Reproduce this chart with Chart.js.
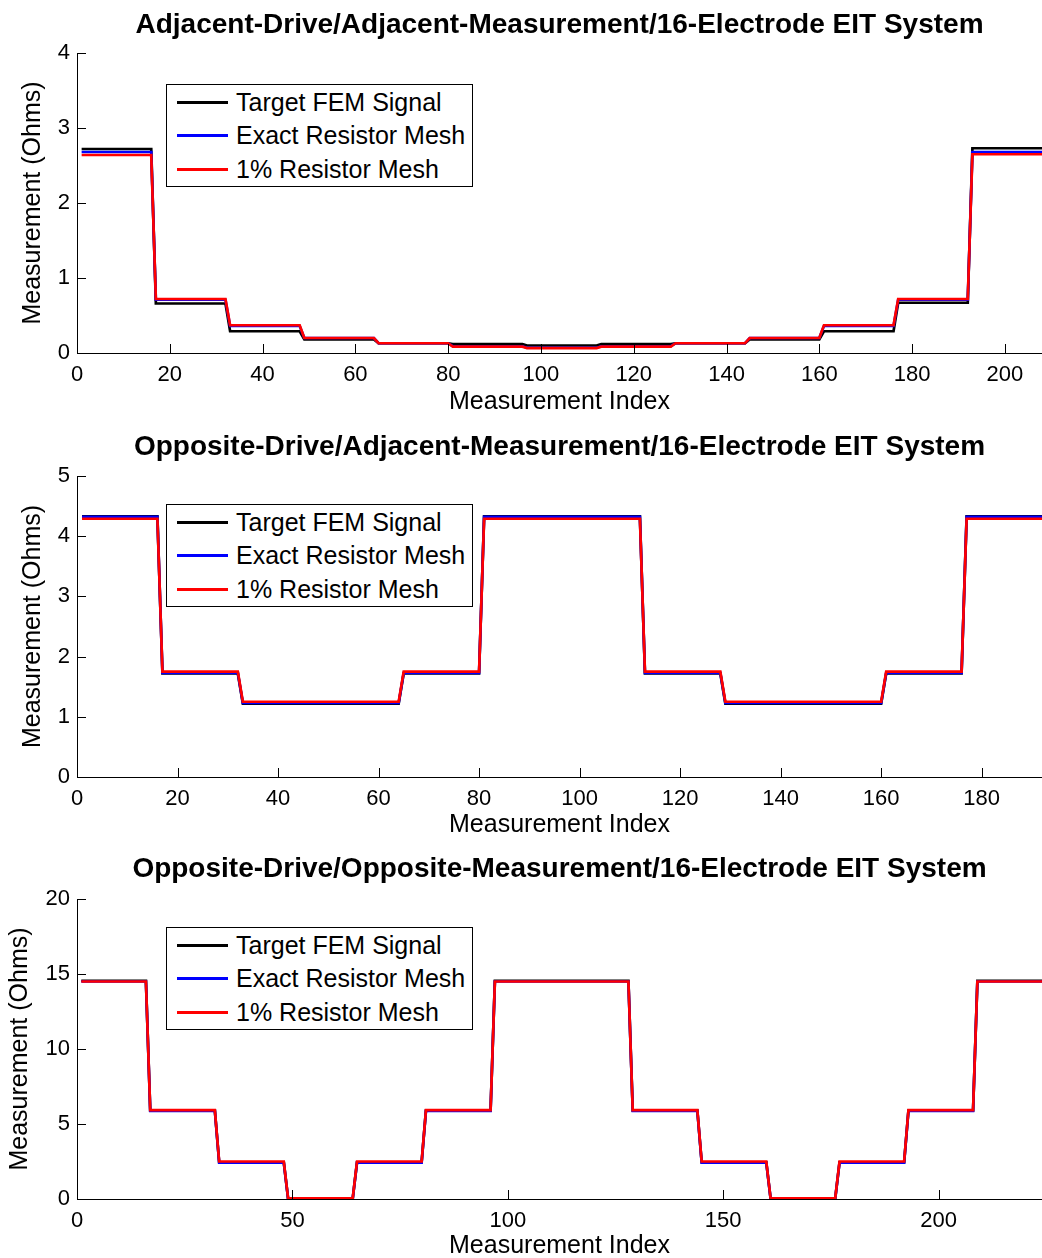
<!DOCTYPE html>
<html>
<head>
<meta charset="utf-8">
<script src="https://cdn.jsdelivr.net/npm/chart.js@4"></script>
<style>
html,body{margin:0;padding:0;background:#fff;overflow:hidden;width:1042px;height:1258px}
.panel{position:absolute;left:0;width:1042px}
.panel canvas{display:block}
.legend{position:absolute;box-sizing:border-box;width:307px;height:103px;border:1px solid #000;background:#fff;font-family:"Liberation Sans",Arial,sans-serif;font-size:25px;color:#000}
.legend .row{position:absolute;left:0;width:300px;height:33px}
.legend .swatch{position:absolute;left:10px;top:15px;width:51px;height:3px}
.legend .txt{position:absolute;left:69px;top:0;line-height:33px;white-space:nowrap}
</style>
</head>
<body>
<div class="panel" id="p1" style="top:0;height:422px"><canvas id="c1" width="1042" height="422"></canvas></div>
<div class="panel" id="p2" style="top:422px;height:422px"><canvas id="c2" width="1042" height="422"></canvas></div>
<div class="panel" id="p3" style="top:844px;height:420px"><canvas id="c3" width="1042" height="420"></canvas></div>
<script>
// ---------- DATA ----------
const seriesNames = ['Target FEM Signal', 'Exact Resistor Mesh', '1% Resistor Mesh'];
const xAxisLabel = 'Measurement Index';
const yAxisLabel = 'Measurement (Ohms)';

// Panel 1: Adjacent drive / adjacent measurement (208 measurements, level corners)
const adjTitle = 'Adjacent-Drive/Adjacent-Measurement/16-Electrode EIT System';
const adjX      = [1,16,17,32,33,48,49,64,65,80,81,96,97,112,113,128,129,144,145,160,161,176,177,192,193,208];
const adjTarget = [2.72,2.72,0.66,0.66,0.29,0.29,0.18,0.18,0.13,0.13,0.12,0.12,0.10,0.10,0.12,0.12,0.13,0.13,0.18,0.18,0.29,0.29,0.67,0.67,2.73,2.73];
const adjExact  = [2.68,2.68,0.71,0.71,0.36,0.36,0.20,0.20,0.13,0.13,0.09,0.09,0.07,0.07,0.09,0.09,0.13,0.13,0.20,0.20,0.36,0.36,0.71,0.71,2.68,2.68];
const adjOnePct = [2.64,2.64,0.72,0.72,0.37,0.37,0.20,0.20,0.13,0.13,0.085,0.085,0.065,0.065,0.085,0.085,0.13,0.13,0.20,0.20,0.37,0.37,0.72,0.72,2.65,2.65];
const adjXRange = [0, 208], adjXStep = 20, adjYRange = [0, 4], adjYStep = 1;

// Panel 2: Opposite drive / adjacent measurement (192 measurements)
const oaTitle = 'Opposite-Drive/Adjacent-Measurement/16-Electrode EIT System';
const oaX      = [1,16,17,32,33,48,49,64,65,80,81,96,97,112,113,128,129,144,145,160,161,176,177,192];
const oaTarget = [4.33,4.33,1.72,1.72,1.22,1.22,1.22,1.22,1.72,1.72,4.33,4.33,4.33,4.33,1.72,1.72,1.22,1.22,1.22,1.22,1.72,1.72,4.33,4.33];
const oaExact  = [4.32,4.32,1.73,1.73,1.23,1.23,1.23,1.23,1.73,1.73,4.32,4.32,4.32,4.32,1.73,1.73,1.23,1.23,1.23,1.23,1.73,1.73,4.32,4.32];
const oaOnePct = [4.29,4.29,1.75,1.75,1.25,1.25,1.25,1.25,1.75,1.75,4.29,4.29,4.29,4.29,1.75,1.75,1.25,1.25,1.25,1.25,1.75,1.75,4.29,4.29];
const oaXRange = [0, 192], oaXStep = 20, oaYRange = [0, 5], oaYStep = 1;

// Panel 3: Opposite drive / opposite measurement (224 measurements)
const ooTitle = 'Opposite-Drive/Opposite-Measurement/16-Electrode EIT System';
const ooX      = [1,16,17,32,33,48,49,64,65,80,81,96,97,112,113,128,129,144,145,160,161,176,177,192,193,208,209,224];
const ooTarget = [14.55,14.55,5.9,5.9,2.45,2.45,0.03,0.03,2.45,2.45,5.9,5.9,14.55,14.55,14.55,14.55,5.9,5.9,2.45,2.45,0.03,0.03,2.45,2.45,5.9,5.9,14.55,14.55];
const ooExact  = [14.5,14.5,5.87,5.87,2.42,2.42,0.02,0.02,2.42,2.42,5.87,5.87,14.5,14.5,14.5,14.5,5.87,5.87,2.42,2.42,0.02,0.02,2.42,2.42,5.87,5.87,14.5,14.5];
const ooOnePct = [14.5,14.5,5.93,5.93,2.5,2.5,0.05,0.05,2.5,2.5,5.93,5.93,14.5,14.5,14.5,14.5,5.93,5.93,2.5,2.5,0.05,0.05,2.5,2.5,5.93,5.93,14.5,14.5];
const ooXRange = [0, 224], ooXStep = 50, ooYRange = [0, 20], ooYStep = 5;

// ---------- STYLE ----------
const FONT = '"Liberation Sans", Arial, Helvetica, sans-serif';
const seriesColors = ['#000000', '#0000ff', '#ff0000'];

// inward tick marks (MATLAB style), drawn at the library's tick positions
const innerTicks = {
  id: 'innerTicks',
  afterDraw(chart) {
    const {ctx, chartArea, scales} = chart;
    ctx.save();
    ctx.strokeStyle = '#000';
    ctx.lineWidth = 1;
    ctx.beginPath();
    scales.x.ticks.forEach(t => {
      const px = Math.round(scales.x.getPixelForValue(t.value)) + 0.5;
      ctx.moveTo(px, chartArea.bottom);
      ctx.lineTo(px, chartArea.bottom - 9);
    });
    scales.y.ticks.forEach(t => {
      const py = Math.round(scales.y.getPixelForValue(t.value)) + 0.5;
      ctx.moveTo(chartArea.left, py);
      ctx.lineTo(chartArea.left + 9, py);
    });
    ctx.stroke();
    ctx.restore();
  }
};

// boxed HTML legend built from the chart's datasets
const htmlLegend = {
  id: 'htmlLegend',
  afterUpdate(chart, args, opts) {
    const panel = chart.canvas.parentNode;
    let box = panel.querySelector('.legend');
    if (!box) { box = document.createElement('div'); box.className = 'legend'; panel.appendChild(box); }
    box.innerHTML = '';
    chart.data.datasets.forEach((ds, i) => {
      const row = document.createElement('div');
      row.className = 'row';
      row.style.top = (0.5 + 33.5 * i) + 'px';
      const sw = document.createElement('span');
      sw.className = 'swatch';
      sw.style.background = ds.borderColor;
      const tx = document.createElement('span');
      tx.className = 'txt';
      tx.textContent = ds.label;
      row.appendChild(sw); row.appendChild(tx);
      box.appendChild(row);
    });
    box.style.left = (chart.chartArea.left + 89) + 'px';
    box.style.top = (chart.chartArea.top + opts.top) + 'px';
  }
};

function build(id, title, xs, ys, xr, xstep, yr, ystep, g) {
  const datasets = ys.map((arr, i) => ({
    label: seriesNames[i],
    data: xs.map((x, j) => ({x: x, y: arr[j]})),
    borderColor: seriesColors[i],
    backgroundColor: seriesColors[i],
    borderWidth: 2.7,
    pointRadius: 0,
    pointHoverRadius: 0,
    tension: 0,
    fill: false,
    order: 3 - i
  }));
  return new Chart(document.getElementById(id), {
    type: 'line',
    data: {datasets},
    options: {
      responsive: false,
      animation: false,
      events: [],
      layout: {padding: 0},
      plugins: {
        legend: {display: false},
        tooltip: {enabled: false},
        title: {
          display: true, text: title, fullSize: false, color: '#000',
          font: {family: FONT, size: 28, weight: 'bold', lineHeight: 1.2},
          padding: {top: g.tpt, bottom: g.tpb}
        },
        htmlLegend: {top: g.legTop}
      },
      scales: {
        x: {
          type: 'linear', min: xr[0], max: xr[1],
          grid: {display: false, drawTicks: false},
          border: {display: true, color: '#000', width: 1},
          ticks: {stepSize: xstep, includeBounds: false, autoSkip: false, maxRotation: 0,
                  color: '#000', font: {family: FONT, size: 22}, padding: 9},
          title: {display: true, text: xAxisLabel, color: '#000',
                  font: {family: FONT, size: 25, lineHeight: 1.2}, padding: {top: 0, bottom: g.xpb}},
          afterFit: s => { s.height = g.xh; }
        },
        y: {
          type: 'linear', min: yr[0], max: yr[1],
          grid: {display: false, drawTicks: false},
          border: {display: true, color: '#000', width: 1},
          ticks: {stepSize: ystep, includeBounds: false, color: '#000',
                  font: {family: FONT, size: 22}, padding: 7},
          title: {display: true, text: yAxisLabel, color: '#000',
                  font: {family: FONT, size: 25, lineHeight: 1.2}, padding: {top: g.ypt, bottom: 0}},
          afterFit: s => { s.width = 77; }
        }
      }
    },
    plugins: [innerTicks, htmlLegend]
  });
}

build('c1', adjTitle, adjX, [adjTarget, adjExact, adjOnePct], adjXRange, adjXStep, adjYRange, adjYStep,
      {tpt: 8, tpb: 11.4, xh: 69, xpb: 4.6, ypt: 18.6, legTop: 31});
build('c2', oaTitle, oaX, [oaTarget, oaExact, oaOnePct], oaXRange, oaXStep, oaYRange, oaYStep,
      {tpt: 8, tpb: 12.4, xh: 67, xpb: 3.6, ypt: 18.6, legTop: 28});
build('c3', ooTitle, ooX, [ooTarget, ooExact, ooOnePct], ooXRange, ooXStep, ooYRange, ooYStep,
      {tpt: 8.2, tpb: 13.2, xh: 65, xpb: 2.6, ypt: 5.6, legTop: 28});
</script>
</body>
</html>
